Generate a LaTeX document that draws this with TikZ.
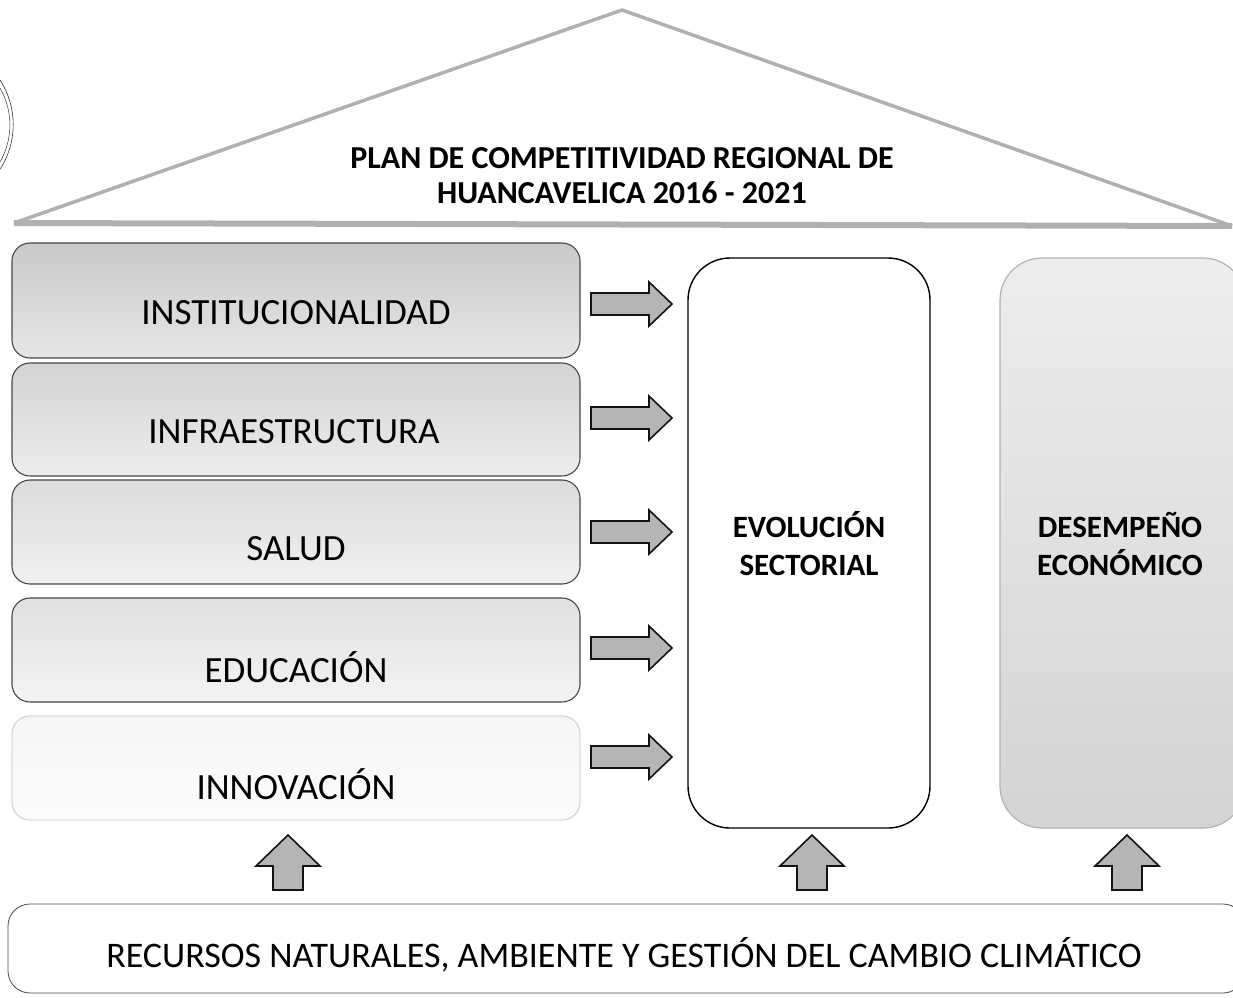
\documentclass[tikz,border=0pt]{standalone}
\usepackage{fontspec}
\setmainfont{Carlito}
\begin{document}
\begin{tikzpicture}[x=1pt,y=-1pt,
  pillar/.style={rounded corners=18pt, line width=1.1pt, draw=gray!55!black},
  bigcol/.style={rounded corners=42pt, line width=1.4pt},
  blockarrow/.style={fill=gray!58, draw=gray!15!black, line width=1.6pt, line join=miter},
  roofline/.style={draw=gray!62, line width=3.5pt, line join=round},
  lbl/.style={font=\fontsize{37}{40}\selectfont, inner sep=0pt},
  bold/.style={font=\fontsize{31}{38}\selectfont\bfseries, align=center, inner sep=0pt},
  rarr/.pic={\draw[blockarrow] (-40,-11) -- (18,-11) -- (18,-22) -- (41,0) -- (18,22) -- (18,11) -- (-40,11) -- cycle;},
  uarr/.pic={\draw[blockarrow] (0,-27) -- (32,4) -- (15,4) -- (15,28) -- (-15,28) -- (-15,4) -- (-32,4) -- cycle;}
]
\useasboundingbox (0,0) rectangle (1233,997);
% stamp trace at left edge
\draw[gray!40!black, line width=0.6pt] (0,80) arc[start angle=-33, end angle=33, radius=82];
\draw[gray!40!black, line width=0.5pt] (0,88) arc[start angle=-30, end angle=30, radius=74];
% roof
\coordinate (apex) at (622,10);
\coordinate (rl) at (14,223);
\coordinate (rr) at (1232,226);
\draw[roofline] (rl) -- (apex) -- (rr);
\draw[draw=gray!62, line width=6pt] (rl) -- (rr);
\node[font=\fontsize{32}{35}\selectfont\bfseries, align=center] (title) at (622,176) {PLAN DE COMPETITIVIDAD REGIONAL DE\\HUANCAVELICA 2016 - 2021};
% left pillars
\draw[pillar, top color=gray!42, bottom color=gray!20] (12,243) rectangle (580,358);
\draw[pillar, top color=gray!34, bottom color=gray!15] (12,363) rectangle (580,476);
\draw[pillar, top color=gray!28, bottom color=gray!11] (12,480) rectangle (580,584);
\draw[pillar, top color=gray!24, bottom color=gray!9] (12,598) rectangle (580,702);
\draw[pillar, draw=gray!45, line width=0.8pt, top color=gray!7, bottom color=gray!3] (12,716) rectangle (580,820);
\node[lbl] (l1) at (296,313) {INSTITUCIONALIDAD};
\node[lbl] (l2) at (294,432) {INFRAESTRUCTURA};
\node[lbl] (l3) at (296,549) {SALUD};
\node[lbl] (l4) at (296,667) {EDUCACIÓN};
\node[lbl] (l5) at (296,784) {INNOVACIÓN};
% right arrows
\pic (ra1) at (631,304) {rarr};
\pic (ra2) at (631,418) {rarr};
\pic (ra3) at (631,532) {rarr};
\pic (ra4) at (631,648) {rarr};
\pic (ra5) at (631,757) {rarr};
% columns
\draw[bigcol, draw=black, fill=white] (688,258) rectangle (930,828);
\node[bold] (evo) at (809,544) {EVOLUCIÓN\\SECTORIAL};
\draw[bigcol, draw=gray!60, line width=1.2pt, top color=gray!14, bottom color=gray!34] (1000,258) rectangle (1245,828);
\node[bold] (des) at (1120,544) {DESEMPEÑO\\ECONÓMICO};
% up arrows
\pic (ua1) at (288,862) {uarr};
\pic (ua2) at (812,862) {uarr};
\pic (ua3) at (1127,862) {uarr};
% base
\draw[rounded corners=22pt, draw=gray!60!black, line width=0.8pt, fill=white] (8,904) rectangle (1245,993);
\node[font=\fontsize{36}{40}\selectfont, inner sep=0pt] (base) at (624,955) {RECURSOS NATURALES, AMBIENTE Y GESTIÓN DEL CAMBIO CLIMÁTICO};
\end{tikzpicture}
\end{document}
